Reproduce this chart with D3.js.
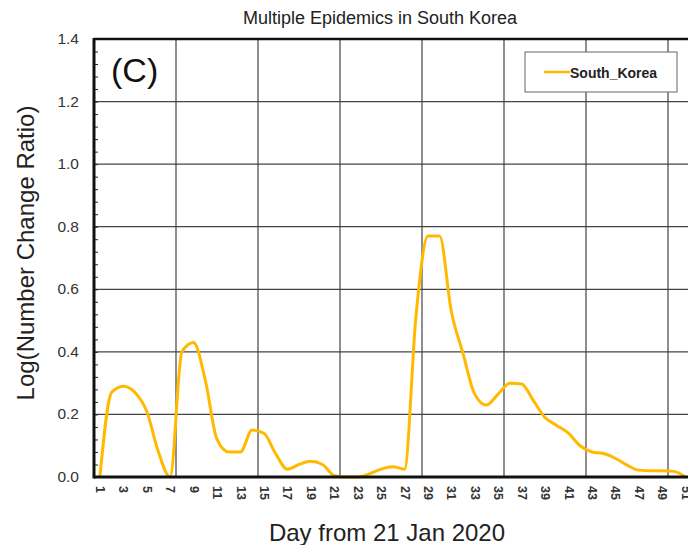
<!DOCTYPE html>
<html>
<head>
<meta charset="utf-8">
<script src="https://cdn.jsdelivr.net/npm/d3@7"></script>
<style>
  body { margin: 0; background: #fff; }
  svg { display: block; overflow: hidden; }
</style>
</head>
<body>
<div id="drawing"></div>
<script>
// data
var days = d3.range(1, 52);
var southKorea = [
  0.00, 0.27, 0.29, 0.27, 0.21, 0.08, 0.00, 0.40, 0.43, 0.31,
  0.12, 0.08, 0.08, 0.15, 0.14, 0.075, 0.025, 0.04, 0.05, 0.04,
  0.005, 0.00, 0.00, 0.01, 0.025, 0.033, 0.025, 0.52, 0.77, 0.77,
  0.53, 0.395, 0.265, 0.23, 0.265, 0.30, 0.297, 0.245, 0.19, 0.165,
  0.14, 0.10, 0.08, 0.075, 0.06, 0.038, 0.022, 0.02, 0.02, 0.018,
  0.00
];
var xTickLabels = d3.range(1, 57, 2);
var yTickLabels = [0.0, 0.2, 0.4, 0.6, 0.8, 1.0, 1.2, 1.4];
var xGrid = [7.5, 14.5, 21.5, 28.5, 35.5, 42.5, 49.5];
var seriesName = "South_Korea";

var width = 688;
var height = 545;
var plot = {left: 94, top: 39, right: 750, bottom: 477};
var lineColor = "#FFBA00";

var svg = d3.select("#drawing").append("svg")
  .attr("width", width)
  .attr("height", height)
  .style("font-family", "'Liberation Sans', Arial, sans-serif");

var xScale = d3.scaleLinear().domain([0.5, 56.5]).range([plot.left, plot.right]);
var yScale = d3.scaleLinear().domain([0, 1.4]).range([plot.bottom, plot.top]);

// grid
svg.append("g").attr("class", "yGrid")
  .selectAll("line").data(yTickLabels.slice(1, -1)).enter()
  .append("line")
  .attr("x1", plot.left).attr("x2", plot.right)
  .attr("y1", d => yScale(d)).attr("y2", d => yScale(d))
  .style("stroke", "#444").style("stroke-width", 1.2);

svg.append("g").attr("class", "xGrid")
  .selectAll("line").data(xGrid).enter()
  .append("line")
  .attr("x1", d => xScale(d)).attr("x2", d => xScale(d))
  .attr("y1", plot.top).attr("y2", plot.bottom)
  .style("stroke", "#444").style("stroke-width", 1.2);

// minor ticks on left axis, inward
var yAxis = svg.append("g")
  .attr("class", "yAxis")
  .attr("transform", `translate(${plot.left},0)`)
  .call(d3.axisRight(yScale).tickValues(d3.range(0, 1.41, 0.04)).tickSize(4).tickFormat(""));
yAxis.select(".domain").remove();
yAxis.selectAll("line").style("stroke", "#222").style("stroke-width", 1);

// y tick labels
svg.append("g").attr("class", "yLabels")
  .selectAll("text").data(yTickLabels).enter()
  .append("text")
  .attr("x", 79)
  .attr("y", d => yScale(d) + 5)
  .attr("text-anchor", "end")
  .style("font-size", "15.5px")
  .style("fill", "#333")
  .text(d => d.toFixed(1));

// x tick labels (rotated)
var xAxis = svg.append("g")
  .attr("class", "xAxis")
  .attr("transform", `translate(0,${plot.bottom})`)
  .call(d3.axisBottom(xScale).tickValues(xTickLabels).tickSize(0).tickFormat(d3.format("d")));
xAxis.select(".domain").remove();
xAxis.selectAll("text")
  .attr("transform", "rotate(90)")
  .attr("x", 9)
  .attr("y", 0)
  .attr("dy", "0.35em")
  .attr("text-anchor", "start")
  .style("font-size", "12.5px")
  .style("font-weight", "bold")
  .style("fill", "#333")
  .style("font-family", "'Liberation Sans', Arial, sans-serif");

// data line
var lineGenerator = d3.line()
  .x((d, i) => xScale(days[i]))
  .y(d => yScale(d))
  .curve(d3.curveMonotoneX);

svg.append("path")
  .attr("d", lineGenerator(southKorea))
  .style("fill", "none")
  .style("stroke", lineColor)
  .style("stroke-width", 3)
  .style("stroke-linejoin", "round");

// frame
svg.append("line")
  .attr("x1", plot.left).attr("x2", plot.right)
  .attr("y1", plot.top).attr("y2", plot.top)
  .style("stroke", "#111").style("stroke-width", 2.5);
svg.append("line")
  .attr("x1", plot.left).attr("x2", plot.right)
  .attr("y1", plot.bottom).attr("y2", plot.bottom)
  .style("stroke", "#111").style("stroke-width", 3);
svg.append("line")
  .attr("x1", plot.left).attr("x2", plot.left)
  .attr("y1", plot.top - 1).attr("y2", plot.bottom + 1.5)
  .style("stroke", "#111").style("stroke-width", 3);

// legend
var legend = svg.append("g").attr("class", "legend");
legend.append("rect")
  .attr("x", 525).attr("y", 52).attr("width", 152).attr("height", 40)
  .style("fill", "#fff").style("stroke", "#666").style("stroke-width", 1);
legend.append("line")
  .attr("x1", 544).attr("x2", 570).attr("y1", 72).attr("y2", 72)
  .style("stroke", lineColor).style("stroke-width", 2.5);
legend.append("text")
  .attr("x", 570).attr("y", 78)
  .style("font-size", "14px").style("font-weight", "bold").style("fill", "#222")
  .text(seriesName);

// panel tag
svg.append("text")
  .attr("x", 111).attr("y", 82)
  .style("font-size", "34px").style("fill", "#111")
  .text("(C)");

// titles
svg.append("text")
  .attr("x", 380).attr("y", 24)
  .attr("text-anchor", "middle")
  .style("font-size", "18px").style("fill", "#222")
  .text("Multiple Epidemics in South Korea");

svg.append("text")
  .attr("x", 387).attr("y", 541)
  .attr("text-anchor", "middle")
  .style("font-size", "24px").style("fill", "#222")
  .text("Day from 21 Jan 2020");

svg.append("text")
  .attr("transform", "translate(34,253) rotate(-90)")
  .attr("text-anchor", "middle")
  .style("font-size", "24px").style("fill", "#222")
  .text("Log(Number Change Ratio)");
</script>
</body>
</html>
